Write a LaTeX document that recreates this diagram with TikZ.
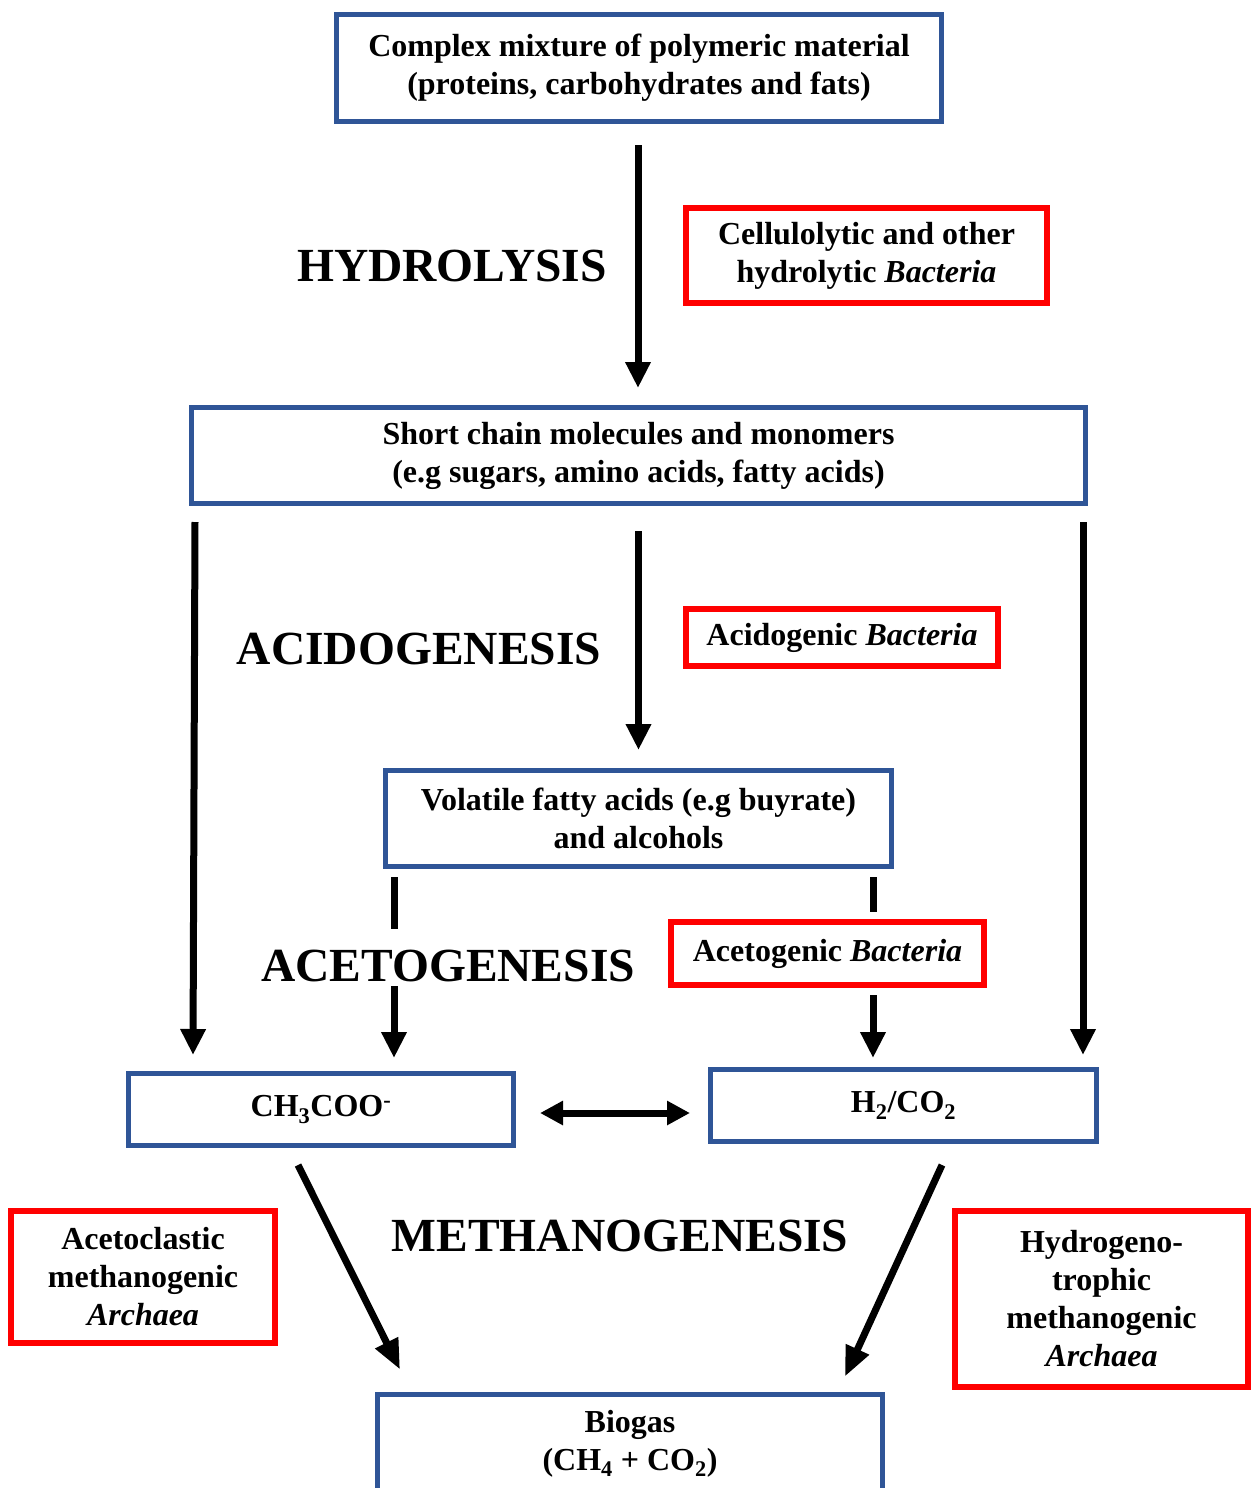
\documentclass[tikz,border=0pt]{standalone}
\usepackage{fontspec}
\setmainfont{Liberation Serif}
\usetikzlibrary{arrows.meta,calc}
\definecolor{boxblue}{RGB}{47,85,151}
\definecolor{boxred}{RGB}{255,0,0}
\begin{document}
\begin{tikzpicture}[x=1pt,y=-1pt,
  every node/.style={font=\fontsize{32}{38}\selectfont\bfseries, align=center},
  bluebox/.style={draw=boxblue, line width=5pt, inner sep=0pt, fill=white},
  redbox/.style={draw=boxred, line width=6pt, inner sep=0pt, fill=white},
  titletext/.style={font=\fontsize{47.5}{50}\selectfont\bfseries, anchor=base},
  arr/.style={line width=7pt, -{Triangle[width=24pt,length=26pt]}},
  diagarr/.style={line width=7pt, -{Triangle[width=24pt,length=30pt]}},
  dblarr/.style={line width=7pt, {Triangle[width=23pt,length=23pt]}-{Triangle[width=23pt,length=23pt]}},
]
\useasboundingbox (0,0) rectangle (1260,1488);

% boxes
\node[bluebox, minimum width=605pt, minimum height=107pt] (top) at (639,68)
  {Complex mixture of polymeric material\\(proteins, carbohydrates and fats)};
\node[redbox, minimum width=361pt, minimum height=95pt] (cell) at (866.5,255.5)
  {Cellulolytic and other\\hydrolytic \textit{Bacteria}};
\node[bluebox, minimum width=894pt, minimum height=96pt] (short) at (638.5,455.5)
  {Short chain molecules and monomers\\(e.g sugars, amino acids, fatty acids)};
\node[redbox, minimum width=312pt, minimum height=57pt] (acid) at (842,637.5)
  {Acidogenic \textit{Bacteria}};
\node[bluebox, minimum width=506pt, minimum height=96pt] (vfa) at (638.5,818.5)
  {Volatile fatty acids (e.g buyrate)\\and alcohols};
\node[bluebox, minimum width=385pt, minimum height=72pt] (ch3) at (321,1109.5)
  {CH\textsubscript{3}COO\textsuperscript{-}};
\node[bluebox, minimum width=386pt, minimum height=72pt] (h2) at (903.5,1105.5)
  {H\textsubscript{2}/CO\textsubscript{2}};
\node[redbox, minimum width=264pt, minimum height=132pt] (acl) at (143,1277)
  {Acetoclastic\\methanogenic\\\textit{Archaea}};
\node[redbox, minimum width=293pt, minimum height=176pt] (hyd) at (1101.5,1299)
  {Hydrogeno-\\trophic\\methanogenic\\\textit{Archaea}};
\node[bluebox, minimum width=505pt, minimum height=100pt] (bio) at (630,1444)
  {Biogas\\(CH\textsubscript{4} + CO\textsubscript{2})};

% titles
\node[titletext] (thyd) at (452,281) {HYDROLYSIS};
\node[titletext] (tacid) at (419,664) {ACIDOGENESIS};
\node[titletext] (tmeth) at (620,1251) {METHANOGENESIS};

% arrows
\draw[arr] ($(top.south)+(-1,21)$) -- ($(top.south |- short.north)+(-1,-17)$);
\draw[arr] ($(short.south west)+(6,16)$) -- ($(ch3.north west)+(67,-16)$);
\draw[arr] ($(short.south)+(0,25)$) -- ($(vfa.north)+(0,-18)$);
\draw[arr] ($(short.south east)+(-5,16)$) -- ($(h2.north east)+(-16,-12)$);
\draw[arr] ($(vfa.south west)+(11,8)$) -- ($(ch3.north west)+(268,-13)$);
\draw[arr] ($(vfa.south east)+(-21,8)$) -- ($(h2.north west)+(165,-9)$);
\draw[dblarr] ($(ch3.east)+(24,3.5)$) -- ($(h2.west)+(-18,7.5)$);
\draw[diagarr] ($(ch3.south)+(-23,17)$) -- ($(bio.north)+(-230,-22)$);
\draw[diagarr] ($(h2.south)+(38.5,21)$) -- ($(bio.north)+(215,-15)$);

% items drawn over the acetogenesis lines
\node[titletext, fill=white, text height=47pt, text depth=0pt, inner xsep=3pt, inner ysep=5pt] (tacet) at (448,981) {ACETOGENESIS};
\node[redbox, preaction={draw=white, line width=20pt}, minimum width=313pt, minimum height=63pt] (acet) at (827.5,953.5)
  {Acetogenic \textit{Bacteria}};
\end{tikzpicture}
\end{document}
